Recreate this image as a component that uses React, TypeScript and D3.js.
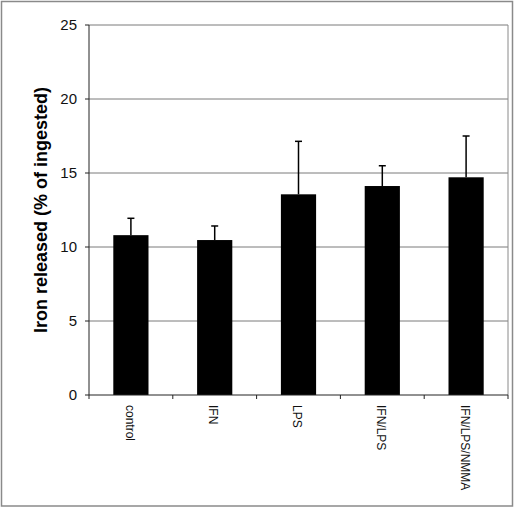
import * as d3 from "d3"

const categories = ["control", "IFN", "LPS", "IFN/LPS", "IFN/LPS/NMMA"]
const values = [10.8, 10.47, 13.56, 14.12, 14.71]
const errors = [1.14, 0.95, 3.58, 1.37, 2.79]
const yTicks = [0, 5, 10, 15, 20, 25]

const width = 520
const height = 508
const marginLeft = 89
const marginRight = 12
const marginTop = 25
const marginBottom = 113

export default function App() {
    const x = d3.scaleBand(categories, [marginLeft, width - marginRight])
        .paddingInner(0.58)
        .paddingOuter(0.29)
    const y = d3.scaleLinear([0, 25], [height - marginBottom, marginTop])
    const step = x.step()
    const font = "Arial, 'Liberation Sans', sans-serif"

    return (
        <svg width={width} height={height}
            style={{ position: "absolute", left: 0, top: 0, background: "#fff" }}>
            {/* outer frame */}
            <rect x={1.5} y={1.5} width={511} height={504.5} fill="none" stroke="#8a8a8a" strokeWidth={1.5} />

            {/* gridlines */}
            {yTicks.slice(1).map(t => (
                <line key={t} x1={marginLeft} x2={width - marginRight} y1={y(t)} y2={y(t)}
                    stroke="#7a7a7a" strokeWidth={1} />
            ))}
            {/* right edge of plot area */}
            <line x1={width - marginRight} x2={width - marginRight} y1={y(25)} y2={y(0)}
                stroke="#8a8a8a" strokeWidth={1} />

            {/* bars */}
            {categories.map((c, i) => (
                <rect key={c} x={x(c)} y={y(values[i])} width={x.bandwidth()}
                    height={y(0) - y(values[i])} fill="#000" />
            ))}

            {/* error bars, upward only */}
            {categories.map((c, i) => {
                const cx = (x(c) as number) + x.bandwidth() / 2
                const top = y(values[i] + errors[i])
                return (
                    <g key={c} stroke="#000" strokeWidth={1.5}>
                        <line x1={cx} x2={cx} y1={y(values[i])} y2={top} />
                        <line x1={cx - 3.5} x2={cx + 3.5} y1={top} y2={top} />
                    </g>
                )
            })}

            {/* y axis */}
            <line x1={marginLeft} x2={marginLeft} y1={y(25)} y2={y(0)} stroke="#222" strokeWidth={1} />
            {yTicks.map(t => (
                <g key={t}>
                    <line x1={marginLeft - 4} x2={marginLeft} y1={y(t)} y2={y(t)} stroke="#222" />
                    <text x={77} y={y(t)} dy="0.35em" textAnchor="end" fontSize={15}
                        fontFamily={font} fill="#111">{t}</text>
                </g>
            ))}

            {/* x axis */}
            <line x1={marginLeft} x2={width - marginRight} y1={y(0)} y2={y(0)} stroke="#222" strokeWidth={1} />
            {d3.range(categories.length + 1).map(i => (
                <line key={i} x1={marginLeft + i * step} x2={marginLeft + i * step}
                    y1={y(0)} y2={y(0) + 4} stroke="#222" />
            ))}
            {categories.map(c => {
                const cx = (x(c) as number) + x.bandwidth() / 2
                return (
                    <text key={c} transform={`translate(${cx - 1}, ${y(0) + 10}) rotate(90)`}
                        dy="0.35em" fontSize={12} fontFamily={font} fill="#111">{c}</text>
                )
            })}

            {/* y title */}
            <text transform={`translate(41, 210) rotate(-90)`} dy="0.35em" textAnchor="middle"
                fontSize={18} fontWeight="bold" fontFamily={font} fill="#000">
                Iron released (% of ingested)
            </text>
        </svg>
    )
}
